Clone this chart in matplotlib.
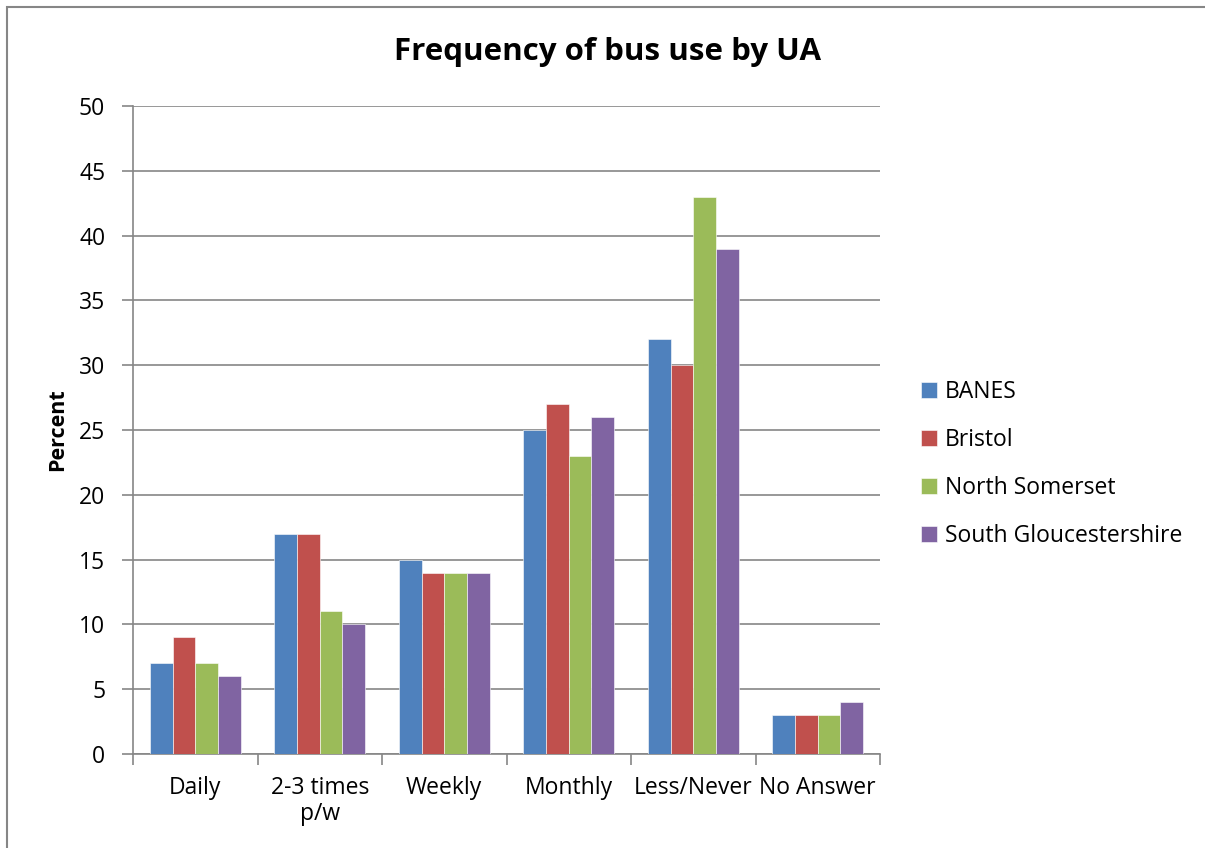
import numpy as np
import matplotlib
matplotlib.use("Agg")
import matplotlib.pyplot as plt
from matplotlib.patches import Rectangle

plt.rcParams['font.family'] = ['Open Sans', 'DejaVu Sans']

categories = ['Daily', '2-3 times\np/w', 'Weekly', 'Monthly', 'Less/Never', 'No Answer']
series_names = ['BANES', 'Bristol', 'North Somerset', 'South Gloucestershire']
banes = [7, 17, 15, 25, 32, 3]
bristol = [9, 17, 14, 27, 30, 3]
north_somerset = [7, 11, 14, 23, 43, 3]
south_glos = [6, 10, 14, 26, 39, 4]
colors = ['#4F81BD', '#C0504D', '#9BBB59', '#8064A2']

fig = plt.figure(figsize=(12.05, 8.48), dpi=100)
# outer chart border
fig.patches.append(Rectangle((7 / 1205, -0.1), 1.2, 1.1 - 7 / 848, transform=fig.transFigure,
                             fill=False, edgecolor='#868686', linewidth=1.5))

ax = fig.add_axes([133 / 1205, 1 - 754 / 848, (880 - 133) / 1205, (754 - 106) / 848])

x = np.arange(len(categories))
width = 1 / (4 + 1.5)
data = [banes, bristol, north_somerset, south_glos]
for i, (vals, name) in enumerate(zip(data, series_names)):
    ax.bar(x + (i - 1.5) * width, vals, width, color=colors[i], label=name,
           edgecolor='white', linewidth=0.4, zorder=3)

ax.set_xlim(-0.5, len(categories) - 0.5)
ax.set_ylim(0, 50)
ax.set_yticks(range(0, 51, 5))
ax.yaxis.grid(True, color='#868686', linewidth=1.2, zorder=0)
ax.set_axisbelow(True)

for s in ['top', 'right']:
    ax.spines[s].set_visible(False)
for s in ['left', 'bottom']:
    ax.spines[s].set_color('#868686')
    ax.spines[s].set_linewidth(1.2)

ax.set_xticks(x)
ax.set_xticklabels(categories, fontsize=16.5, linespacing=1.1)
ax.tick_params(axis='x', length=0, pad=16)
ax.set_xticks(np.arange(-0.5, len(categories), 1), minor=True)
ax.tick_params(axis='x', which='minor', length=8, width=1.2, color='#868686', direction='out')
ax.tick_params(axis='y', length=8, width=1.2, color='#868686', labelsize=16.5, pad=12)

ax.set_ylabel('Percent', fontsize=15.5, fontweight='bold', labelpad=8)
fig.text(608 / 1205, 1 - 52 / 848, 'Frequency of bus use by UA', fontsize=22.5,
         fontweight='bold', ha='center', va='center')

ax.legend(loc='center left', bbox_to_anchor=(900 / 1205, 1 - 464 / 848),
          bbox_transform=fig.transFigure, frameon=False, fontsize=16.5,
          handlelength=0.7, handleheight=0.7, handletextpad=0.35, labelspacing=1.05)

fig.savefig('out.png', dpi=100)
